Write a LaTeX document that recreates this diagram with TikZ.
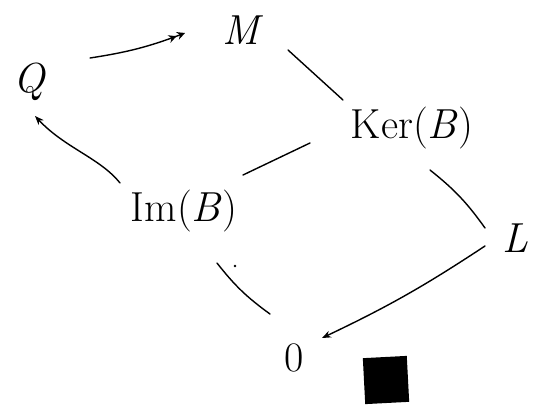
\documentclass[tikz,border=0pt]{standalone}
\usetikzlibrary{arrows.meta}
\begin{document}
\begin{tikzpicture}[x=1pt,y=-1pt,
  lbl/.style={inner sep=1pt, font=\fontsize{42}{48}\selectfont},
  ln/.style={line width=1.4pt, line cap=round},
  arr/.style={ln, -{Stealth[length=9pt,width=7pt]}},
  arrr/.style={ln, -{Stealth[length=8pt,width=8pt,sep=1pt]Stealth[length=8pt,width=8pt]}}]
\useasboundingbox (0,0) rectangle (541,407);
\node[lbl] (Q) at (30,82) {\textit{Q}};
\node[lbl] (M) at (243,30) {\textit{M}};
\node[lbl] (K) at (412,128) {Ker(\textit{B})};
\node[lbl] (I) at (184,211) {Im(\textit{B})};
\node[lbl] (L) at (515,238) {\textit{L}};
\node[lbl] (Z) at (294,358) {0};
\node[fill=black, minimum width=44pt, minimum height=46pt, inner sep=0pt, rotate=3] (box) at (386,380) {};
\coordinate (qm1) at (90,58);
\coordinate (qm2) at (185,33);
\draw[arrr] (qm1) to[bend right=6] (qm2);
\coordinate (iq1) at (120,183);
\coordinate (iq2) at (35,116);
\draw[arr] (iq1) .. controls (100,158) and (65,148) .. (iq2);
\coordinate (mk1) at (288,50);
\coordinate (mk2) at (343,100);
\draw[ln] (mk1) -- (mk2);
\coordinate (ki1) at (310,143);
\coordinate (ki2) at (243,175);
\draw[ln] (ki1) -- (ki2);
\coordinate (kl1) at (430,170);
\coordinate (kl2) at (485,228);
\draw[ln] (kl1) to[bend left=8] (kl2);
\coordinate (iz1) at (217,263);
\coordinate (iz2) at (270,314);
\draw[ln] (iz1) to[bend right=8] (iz2);
\coordinate (lz1) at (485,246);
\coordinate (lz2) at (322,338);
\draw[arr] (lz1) to[bend left=4] (lz2);
\fill (235,266) circle (1.3pt);
\end{tikzpicture}
\end{document}
